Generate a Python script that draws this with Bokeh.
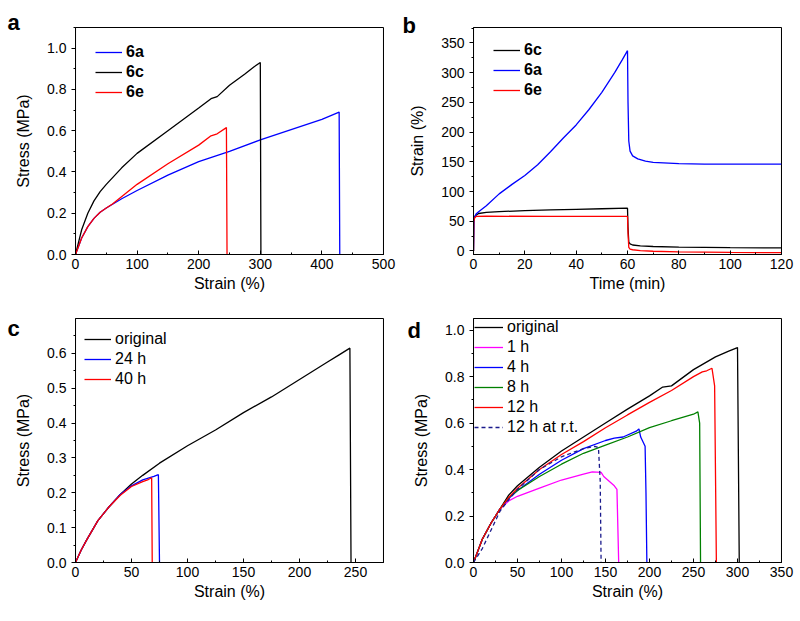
from bokeh.plotting import figure
from bokeh.layouts import column, row
from bokeh.models import Range1d, SingleIntervalTicker, NumeralTickFormatter, BoxAnnotation
from bokeh.core.properties import value
from bokeh.embed import file_html
from bokeh.resources import INLINE

FONT = "Liberation Sans"

# ---------------- Panel a: stress-strain ----------------
a_6a_x = [0, 5, 10, 20, 30, 40, 50, 75, 100, 150, 200, 250, 300, 350, 400, 428, 429]
a_6a_y = [0, 0.04, 0.08, 0.135, 0.175, 0.205, 0.225, 0.27, 0.31, 0.385, 0.45, 0.5, 0.555, 0.605, 0.655, 0.69, 0]
a_6c_x = [0, 5, 10, 20, 30, 40, 50, 75, 100, 150, 200, 220, 230, 250, 275, 290, 300, 301]
a_6c_y = [0, 0.06, 0.12, 0.2, 0.26, 0.305, 0.34, 0.42, 0.49, 0.6, 0.71, 0.755, 0.765, 0.82, 0.875, 0.91, 0.93, 0]
a_6e_x = [0, 5, 10, 20, 30, 40, 50, 60, 100, 150, 200, 220, 230, 245, 246]
a_6e_y = [0, 0.04, 0.08, 0.135, 0.175, 0.205, 0.225, 0.245, 0.34, 0.44, 0.53, 0.575, 0.585, 0.615, 0]

# ---------------- Panel b: creep / recovery ----------------
b_6c_t = [0, 0.1, 0.5, 1, 2, 5, 10, 20, 30, 40, 50, 60, 60.2, 60.5, 61, 62, 65, 70, 80, 100, 120]
b_6c_s = [0, 52, 58, 60, 63, 65, 66, 68, 69, 70, 71, 72, 40, 15, 12, 10, 8.5, 7.5, 6.5, 5.5, 5]
b_6a_t = [0, 0.2, 1, 2, 5, 10, 15, 20, 25, 30, 35, 40, 45, 50, 55, 58, 60, 60.2, 60.5, 61, 62, 64, 67, 70, 80, 90, 100, 120]
b_6a_s = [0, 55, 62, 66, 76, 96, 112, 127, 145, 167, 190, 212, 238, 267, 300, 322, 337, 250, 185, 168, 160, 155, 151, 149, 147, 146, 146, 146]
b_6e_t = [0, 0.1, 0.5, 1, 5, 30, 60, 60.2, 60.5, 61, 62, 65, 70, 80, 100, 120]
b_6e_s = [0, 50, 56, 58, 58.5, 58, 58, 30, 6, 3, 2, 0.5, -0.5, -1.5, -2.5, -3]

# ---------------- Panel c ----------------
c_orig_x = [0, 5, 10, 20, 30, 40, 50, 60, 75, 100, 125, 150, 175, 200, 225, 235, 245, 246]
c_orig_y = [0, 0.035, 0.065, 0.12, 0.16, 0.195, 0.225, 0.25, 0.285, 0.335, 0.38, 0.43, 0.475, 0.525, 0.575, 0.595, 0.615, 0]
c_24_x = [0, 5, 10, 20, 30, 40, 50, 60, 70, 74, 75]
c_24_y = [0, 0.035, 0.065, 0.12, 0.16, 0.195, 0.22, 0.237, 0.247, 0.252, 0]
c_40_x = [0, 5, 10, 20, 30, 40, 50, 60, 65, 68, 68.5]
c_40_y = [0, 0.035, 0.065, 0.12, 0.16, 0.193, 0.218, 0.232, 0.238, 0.243, 0]

# ---------------- Panel d ----------------
d_orig_x = [0, 5, 10, 20, 30, 40, 50, 75, 100, 125, 150, 175, 200, 215, 225, 250, 275, 290, 300, 302]
d_orig_y = [0, 0.05, 0.1, 0.17, 0.23, 0.29, 0.33, 0.41, 0.48, 0.54, 0.6, 0.66, 0.717, 0.755, 0.76, 0.83, 0.885, 0.91, 0.925, 0]
d_1h_x = [0, 5, 10, 20, 30, 40, 50, 75, 100, 125, 135, 145, 148, 160, 163, 165]
d_1h_y = [0, 0.05, 0.1, 0.17, 0.23, 0.265, 0.285, 0.32, 0.355, 0.38, 0.39, 0.388, 0.37, 0.33, 0.315, 0]
d_4h_x = [0, 5, 10, 20, 30, 40, 50, 75, 100, 125, 150, 160, 170, 185, 188, 190, 195, 196, 197]
d_4h_y = [0, 0.05, 0.1, 0.17, 0.23, 0.275, 0.31, 0.38, 0.44, 0.49, 0.525, 0.535, 0.54, 0.565, 0.575, 0.54, 0.5, 0.3, 0]
d_8h_x = [0, 5, 10, 20, 30, 40, 50, 75, 100, 125, 150, 175, 200, 225, 250, 255, 257, 258]
d_8h_y = [0, 0.05, 0.1, 0.17, 0.23, 0.28, 0.31, 0.37, 0.423, 0.47, 0.505, 0.54, 0.58, 0.61, 0.638, 0.648, 0.6, 0]
d_12h_x = [0, 5, 10, 20, 30, 40, 50, 75, 100, 125, 150, 175, 200, 225, 250, 260, 265, 271, 274, 276]
d_12h_y = [0, 0.05, 0.1, 0.17, 0.23, 0.28, 0.32, 0.4, 0.465, 0.52, 0.58, 0.635, 0.689, 0.74, 0.8, 0.82, 0.825, 0.836, 0.76, 0]
d_rt_x = [0, 10, 20, 30, 40, 50, 75, 100, 125, 138, 142, 144, 145]
d_rt_y = [0, 0.06, 0.14, 0.22, 0.27, 0.315, 0.4, 0.455, 0.49, 0.5, 0.494, 0.35, 0]

panel_letters = ["a", "b", "c", "d"]


def make_fig(xr, yr, xint, yint, xlabel, ylabel, left, right, top, bottom, w, h, yfmt=None):
    p = figure(width=w, height=h, x_range=Range1d(*xr), y_range=Range1d(*yr),
               output_backend="svg", toolbar_location=None,
               min_border_left=left, min_border_right=right,
               min_border_top=top, min_border_bottom=bottom)
    p.xgrid.visible = False
    p.ygrid.visible = False
    p.outline_line_color = "black"
    p.outline_line_width = 1
    p.background_fill_color = "white"
    p.border_fill_color = "white"
    p.add_layout(BoxAnnotation(fill_alpha=0, line_color="black", line_width=1.2))
    p.xaxis.ticker = SingleIntervalTicker(interval=xint, num_minor_ticks=2)
    p.yaxis.ticker = SingleIntervalTicker(interval=yint, num_minor_ticks=2)
    if yfmt:
        p.yaxis.formatter = NumeralTickFormatter(format=yfmt)
    for ax in (p.xaxis[0], p.yaxis[0]):
        ax.axis_line_color = "black"
        ax.major_tick_line_color = "black"
        ax.minor_tick_line_color = "black"
        ax.major_label_text_font = FONT
        ax.major_label_text_font_size = "14px"
        ax.major_label_text_color = "black"
        ax.axis_label_text_font = FONT
        ax.axis_label_text_font_size = "16px"
        ax.axis_label_text_font_style = "normal"
        ax.axis_label_text_color = "black"
    xa = p.xaxis[0]
    xa.axis_label = xlabel
    xa.major_tick_in = 4
    xa.major_tick_out = 0
    xa.minor_tick_in = 2
    xa.minor_tick_out = 0
    xa.major_label_standoff = 4
    xa.axis_label_standoff = 3
    ya = p.yaxis[0]
    ya.axis_label = ylabel
    ya.major_tick_in = 0
    ya.major_tick_out = 4
    ya.minor_tick_in = 0
    ya.minor_tick_out = 2
    ya.major_label_standoff = 5
    ya.axis_label_standoff = 12
    return p


def style_legend(p, x, y, bold, glyph_w):
    lg = p.legend[0]
    lg.location = (x, y)
    lg.background_fill_alpha = 0
    lg.border_line_alpha = 0
    lg.padding = 0
    lg.margin = 0
    lg.spacing = 0
    lg.label_height = 20
    lg.glyph_height = 20
    lg.glyph_width = glyph_w
    lg.label_standoff = 4
    lg.label_text_font = FONT
    lg.label_text_font_size = "16px"
    lg.label_text_font_style = "bold" if bold else "normal"
    lg.label_text_color = "black"


def letter(p, text, xr, yr, dx, dy):
    # anchored at the frame's top-left corner, shifted by pixel offsets
    p.text(x=[xr[0]], y=[yr[1]], text=[text], x_offset=dx, y_offset=dy,
           text_font=value(FONT), text_font_size="22px", text_font_style="bold",
           text_baseline="alphabetic", text_align="left", text_color="black",
           level="overlay")


LW = 1.3

# Panel a
xr, yr = (0, 500), (0, 1.1)
pa = make_fig(xr, yr, 100, 0.2, "Strain (%)", "Stress (MPa)",
              75, 17, 27, 54, 400, 308, "0.0")
pa.line(a_6a_x, a_6a_y, color="#0000FF", line_width=LW, legend_label="6a")
pa.line(a_6c_x, a_6c_y, color="black", line_width=LW, legend_label="6c")
pa.line(a_6e_x, a_6e_y, color="#FF0000", line_width=LW, legend_label="6e")
style_legend(pa, 20, 152, True, 27)
letter(pa, panel_letters[0], xr, yr, -68, -5)

# Panel b
xr, yr = (0, 120), (-6, 376)
pb = make_fig(xr, yr, 20, 50, "Time (min)", "Strain (%)",
              73, 18, 27, 54, 399, 308)
pb.line(b_6c_t, b_6c_s, color="black", line_width=LW, legend_label="6c")
pb.line(b_6a_t, b_6a_s, color="#0000FF", line_width=LW, legend_label="6a")
pb.line(b_6e_t, b_6e_s, color="#FF0000", line_width=LW, legend_label="6e")
style_legend(pb, 20, 154, True, 27)
letter(pb, panel_letters[1], xr, yr, -71, -2)

# Panel c
xr, yr = (0, 275), (0, 0.7)
pc = make_fig(xr, yr, 50, 0.1, "Strain (%)", "Stress (MPa)",
              75, 17, 10, 58, 400, 312, "0.0")
pc.line(c_orig_x, c_orig_y, color="black", line_width=LW, legend_label="original")
pc.line(c_24_x, c_24_y, color="#0000FF", line_width=LW, legend_label="24 h")
pc.line(c_40_x, c_40_y, color="#FF0000", line_width=LW, legend_label="40 h")
style_legend(pc, 9, 173, False, 27)
letter(pc, panel_letters[2], xr, yr, -68, 10)

# Panel d
xr, yr = (0, 350), (0, 1.05)
pd_ = make_fig(xr, yr, 50, 0.2, "Strain (%)", "Stress (MPa)",
               73, 18, 10, 58, 399, 312, "0.0")
pd_.line(d_orig_x, d_orig_y, color="black", line_width=LW, legend_label="original")
pd_.line(d_1h_x, d_1h_y, color="#FF00FF", line_width=LW, legend_label="1 h")
pd_.line(d_4h_x, d_4h_y, color="#0000FF", line_width=LW, legend_label="4 h")
pd_.line(d_8h_x, d_8h_y, color="#008000", line_width=LW, legend_label="8 h")
pd_.line(d_12h_x, d_12h_y, color="#FF0000", line_width=LW, legend_label="12 h")
pd_.line(d_rt_x, d_rt_y, color="#1A1A8C", line_width=LW, line_dash="4 3", legend_label="12 h at r.t.")
style_legend(pd_, 1, 125, False, 29)
letter(pd_, panel_letters[3], xr, yr, -66, 12)

layout = column(row(pa, pb), row(pc, pd_))
open("out.html", "w").write(file_html(layout, INLINE))
